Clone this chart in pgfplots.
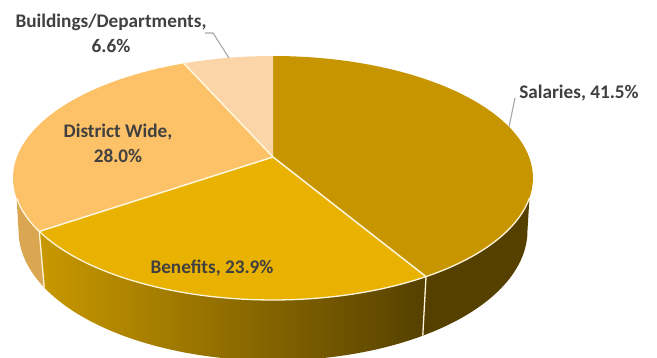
\documentclass[border=0pt]{standalone}
\usepackage{pgfplots}
\pgfplotsset{compat=1.18}
\usepackage{fontspec}
\setmainfont{Carlito}
\definecolor{salTop}{HTML}{C69500}
\definecolor{benTop}{HTML}{E9B100}
\definecolor{disTop}{HTML}{FDC168}
\definecolor{bldTop}{HTML}{FBD5A8}
\definecolor{salSide}{HTML}{554000}
\definecolor{disSide}{HTML}{DBA652}
\definecolor{edge}{HTML}{FFF6DC}
\definecolor{labelink}{HTML}{404040}
\definecolor{leader}{HTML}{A6A6A6}

% One slice of the lid: from percent #1 to percent #2
\newcommand\lidslice[3]{%
  \addplot[fill=#3, draw=none, domain=#1*3.6:#2*3.6, samples=70, variable=\t]
    ({TX(\t)},{TY(\t)}) -- (axis cs:273,201) -- cycle;}
% One spoke on the lid and its continuation down the rim at percent #1
\newcommand\spoke[1]{%
  \addplot[draw=edge, line width=1.5pt, domain=0:1, samples=2, variable=\u]
    ({273+\u*(TX(#1*3.6)-273)},{201+\u*(TY(#1*3.6)-201)});}
\newcommand\rimline[1]{%
  \addplot[draw=edge, line width=1.3pt, domain=0:1, samples=2, variable=\u]
    ({(1-\u)*TX(#1*3.6)+\u*BX(#1*3.6)},{(1-\u)*TY(#1*3.6)+\u*BY(#1*3.6)});}
% One rim face: lid arc #1 to #2 (degrees), then base arc #3 to #4
\newcommand\rimface[5]{%
  \addplot[#5, draw=none, domain=0:121, samples=122, variable=\i,
    declare function={th(\i)=(\i<60.5) ? (#1+(#2-#1)*\i/60) : (#3+(#4-#3)*(\i-61)/60);}]
    ({(\i<60.5) ? TX(th(\i)) : BX(th(\i))},{(\i<60.5) ? TY(th(\i)) : BY(th(\i))}) -- cycle;}

\tikzset{lab/.style={font=\fontsize{19.3}{25}\selectfont\bfseries, text=labelink, align=center, inner sep=0pt}}

\begin{document}
\begin{tikzpicture}
\begin{axis}[
  at={(0,0)}, anchor=south west,
  width=657bp, height=358bp, scale only axis,
  xmin=0, xmax=657, ymin=0, ymax=358,
  hide axis, clip=true,
  declare function={
    kk=0.172;
    DN(\a)=1+kk*cos(\a);
    EX(\a)=0.985*sin(\a)/DN(\a);
    EY(\a)=(cos(\a)+kk)/DN(\a);
    TX(\a)=273+260*EX(\a);
    TY(\a)=180+122*EY(\a);
    BX(\a)=273+254.5*EX(\a);
    BY(\a)=127.4+130*EY(\a);
  },
]
% rim
\rimface{109.1}{149.4}{149.4}{99.9}{fill=salSide}
\rimface{149.4}{235.44}{235.44}{149.4}{left color=benTop!86!black, middle color=benTop!62!black, right color=salSide}
\rimface{235.44}{250.9}{260.1}{235.44}{fill=disSide}
% lid, with slice sizes in percent
\lidslice{0}{41.5}{salTop}
\lidslice{41.5}{65.4}{benTop}
\lidslice{65.4}{93.4}{disTop}
\lidslice{93.4}{100}{bldTop}
% separators
\rimline{41.5}
\rimline{65.4}
\spoke{41.5}
\spoke{65.4}
\spoke{93.4}
\addplot[draw=edge, line width=1.3pt, domain=109.1:250.9, samples=90, variable=\t] ({TX(\t)},{TY(\t)});
% leader lines
\addplot[draw=leader, line width=1.1pt] coordinates {(205,325) (213,325) (229,300)};
\addplot[draw=leader, line width=1.1pt] coordinates {(515,260) (509,231)};
% labels
\node[lab] at (axis cs:111,325) {Buildings/Departments,\\6.6\%};
\node[lab] at (axis cs:118,215) {District Wide,\\28.0\%};
\node[lab] at (axis cs:212,90) {Benefits, 23.9\%};
\node[lab] at (axis cs:579,265) {Salaries, 41.5\%};
\end{axis}
\path (0,0) rectangle (657bp,358bp);
\end{tikzpicture}
\end{document}
